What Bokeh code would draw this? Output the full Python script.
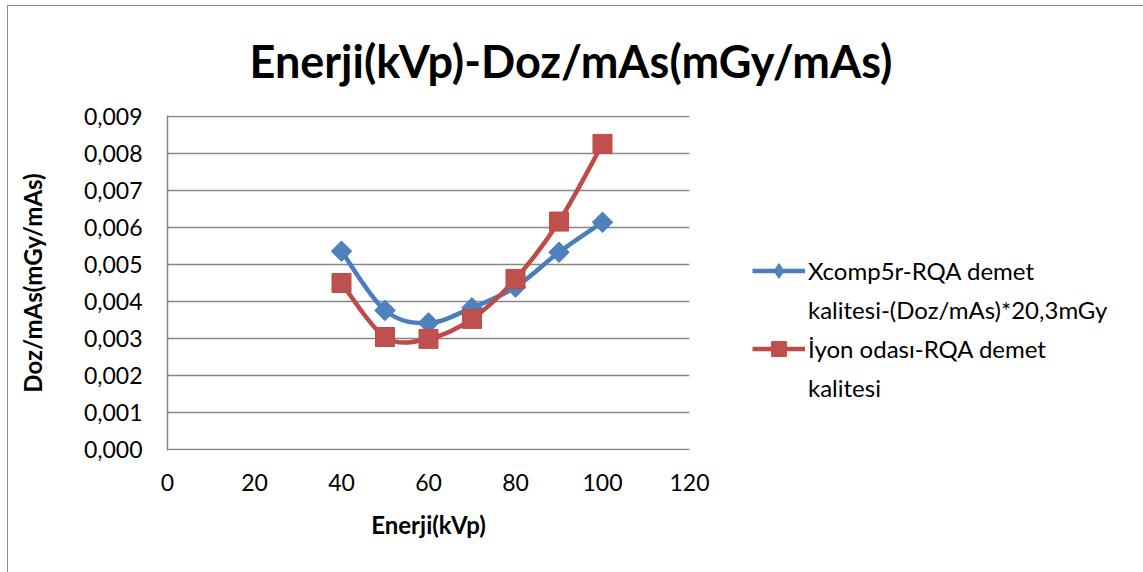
import math
from bokeh.plotting import figure
from bokeh.models import (Range1d, FixedTicker, CustomJSTickFormatter,
                          Legend, LegendItem, InlineStyleSheet)
from bokeh.embed import file_html
from bokeh.resources import INLINE

# ---- data ----
energy = [40, 50, 60, 70, 80, 90, 100]
xcomp = [0.00536, 0.00376, 0.00342, 0.00383, 0.00439, 0.00533, 0.00614]
iyon = [0.00450, 0.00304, 0.00299, 0.00353, 0.00461, 0.00616, 0.00826]
legend_lines = ["Xcomp5r-RQA demet", "kalitesi-(Doz/mAs)*20,3mGy",
                "İyon odası-RQA demet", "kalitesi"]
x_ticks = [0, 20, 40, 60, 80, 100, 120]
y_ticks = [0.000, 0.001, 0.002, 0.003, 0.004, 0.005, 0.006, 0.007, 0.008, 0.009]
title_text = "Enerji(kVp)-Doz/mAs(mGy/mAs)"
x_title = "Enerji(kVp)"
y_title = "Doz/mAs(mGy/mAs)"

W, H = 1143, 572
FL, FR, FT, FB = 167, 689, 115, 450
XMAX, YMAX = 120, 0.009
YPAD = YMAX / 333.0
FONT = "Lato"
BLUE_FILL, BLUE_LINE = "#4F81BD", "#4A7EBB"
RED_FILL, RED_LINE = "#C0504D", "#BE4B48"
GRID = "#878787"

p = figure(frame_width=FR - FL, frame_height=FB - FT,
           output_backend="svg", toolbar_location=None,
           x_range=Range1d(0, XMAX), y_range=Range1d(-YPAD, YMAX + YPAD),
           min_border_left=FL, min_border_right=W - FR,
           min_border_top=FT, min_border_bottom=H - FB,
           title=title_text)
p.outline_line_color = None
p.background_fill_color = "white"
p.border_fill_color = "white"

p.title.text_font = FONT
p.title.text_font_size = "45px"
p.title.text_font_style = "bold"
p.title.text_color = "black"
p.title.align = "left"
p.title.offset = 82
p.title.standoff = 56

# axes
p.xaxis.ticker = FixedTicker(ticks=x_ticks)
p.yaxis.ticker = FixedTicker(ticks=y_ticks)
p.yaxis.formatter = CustomJSTickFormatter(code="return tick.toFixed(3).replace('.', ',');")
for ax in (p.xaxis[0], p.yaxis[0]):
    ax.major_tick_line_color = None
    ax.minor_tick_line_color = None
    ax.major_label_text_font = FONT
    ax.major_label_text_font_size = "23px"
    ax.major_label_text_color = "black"
    ax.axis_label_text_font = FONT
    ax.axis_label_text_font_size = "24px"
    ax.axis_label_text_font_style = "bold"
    ax.axis_label_text_color = "black"
p.xaxis.axis_label = x_title
p.yaxis.axis_label = y_title
p.xaxis.axis_line_color = None
p.yaxis.axis_line_color = GRID
p.yaxis.axis_line_width = 1.5
p.yaxis.major_label_standoff = 19
p.xaxis.major_label_standoff = 17
p.xaxis.axis_label_standoff = 16
p.yaxis.axis_label_standoff = 34
p.xgrid.grid_line_color = None
p.ygrid.grid_line_color = GRID
p.ygrid.grid_line_width = 1.5

# smooth curves (Excel-style bezier through the read points)
def bez(xs, ys):
    n = len(xs)
    out = {k: [] for k in ("x0", "y0", "x1", "y1", "cx0", "cy0", "cx1", "cy1")}
    for i in range(n - 1):
        xm, ym = (xs[i - 1], ys[i - 1]) if i > 0 else (xs[i], ys[i])
        xp, yp = (xs[i + 2], ys[i + 2]) if i + 2 < n else (xs[i + 1], ys[i + 1])
        out["x0"].append(xs[i]); out["y0"].append(ys[i])
        out["x1"].append(xs[i + 1]); out["y1"].append(ys[i + 1])
        out["cx0"].append(xs[i] + (xs[i + 1] - xm) / 6)
        out["cy0"].append(ys[i] + (ys[i + 1] - ym) / 6)
        out["cx1"].append(xs[i + 1] - (xp - xs[i]) / 6)
        out["cy1"].append(ys[i + 1] - (yp - ys[i]) / 6)
    return out

rb = bez(energy, xcomp)
p.bezier(x0=rb["x0"], y0=rb["y0"], x1=rb["x1"], y1=rb["y1"], cx0=rb["cx0"], cy0=rb["cy0"],
         cx1=rb["cx1"], cy1=rb["cy1"], line_color=BLUE_LINE, line_width=4.5)
rr = bez(energy, iyon)
p.bezier(x0=rr["x0"], y0=rr["y0"], x1=rr["x1"], y1=rr["y1"], cx0=rr["cx0"], cy0=rr["cy0"],
         cx1=rr["cx1"], cy1=rr["cy1"], line_color=RED_LINE, line_width=4.5)

p.scatter(energy, xcomp, marker="square", angle=math.pi / 4, size=14.5,
          fill_color=BLUE_FILL, line_color=BLUE_LINE, line_width=1)
s_red = p.scatter(energy, iyon, marker="square", size=19, fill_color=RED_FILL,
                  line_color=RED_LINE, line_width=1)

# legend sample renderers (placed below the visible range; only for legend glyphs)
l_blue = p.line([0, 1], [-1, -1], line_color=BLUE_LINE, line_width=4.5)
m_blue = p.scatter([0], [-1], marker="diamond", fill_color=BLUE_FILL, line_color=BLUE_LINE)
l_red = p.line([0, 1], [-1, -1], line_color=RED_LINE, line_width=4.5)
blank = p.line([0, 1], [-1, -1], line_alpha=0)

legend = Legend(items=[LegendItem(label=legend_lines[0], renderers=[l_blue, m_blue]),
                       LegendItem(label=legend_lines[1], renderers=[blank]),
                       LegendItem(label=legend_lines[2], renderers=[l_red, s_red]),
                       LegendItem(label=legend_lines[3], renderers=[blank])],
                location=(63, 44))
legend.glyph_width = 53
legend.glyph_height = 37
legend.label_height = 37
legend.spacing = 2
legend.padding = 0
legend.margin = 0
legend.label_standoff = 3
legend.border_line_color = None
legend.background_fill_alpha = 0
legend.label_text_font = FONT
legend.label_text_font_size = "24px"
legend.label_text_color = "black"
p.add_layout(legend, "right")

p.stylesheets = [InlineStyleSheet(css=":host { position: relative; } :host::after { content: ''; position: absolute; left: 7px; top: 5px; right: 2px; bottom: -20px; border: 1.5px solid #8C8C8C; pointer-events: none; }")]

open("out.html", "w").write(file_html(p, INLINE))
